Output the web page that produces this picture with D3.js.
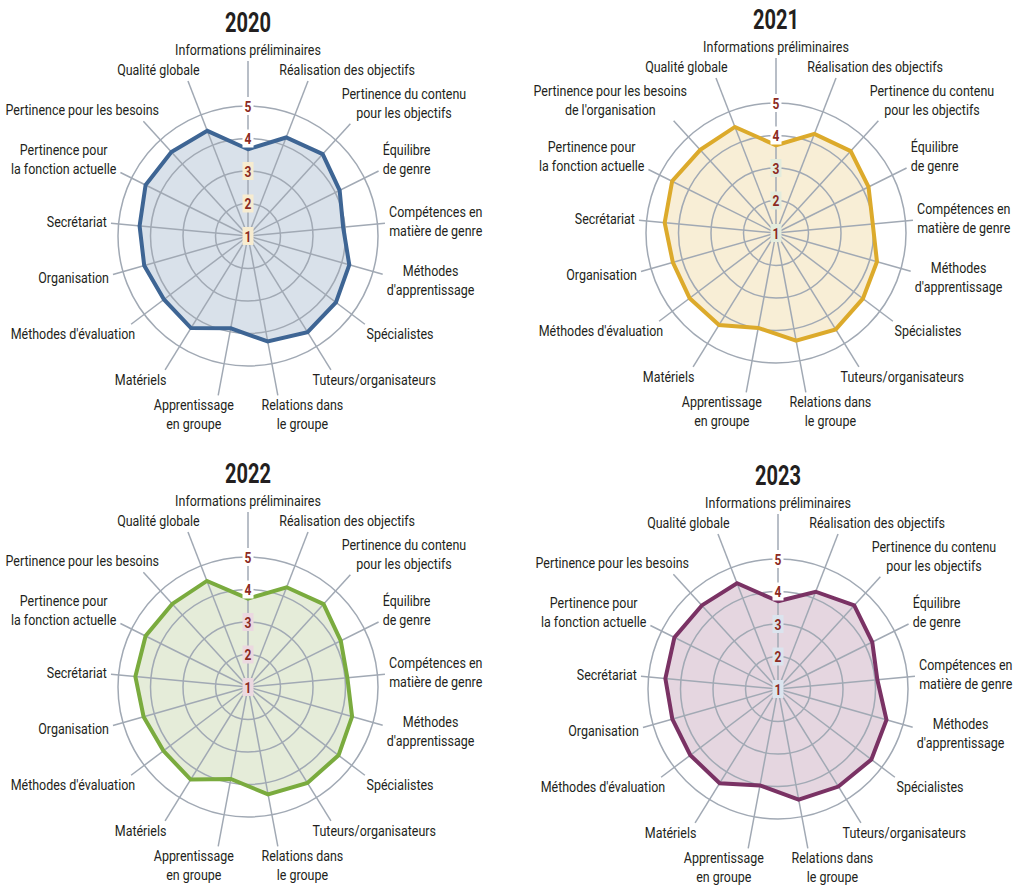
<!DOCTYPE html>
<html>
<head>
<meta charset="utf-8">
<script src="https://cdn.jsdelivr.net/npm/d3@7"></script>
<style>
  html, body { margin: 0; padding: 0; background: #ffffff; }
  svg { display: block; }
  .lab { font-family: Roboto, "Liberation Sans", sans-serif; font-size: 15.5px; fill: #231f20; }
  .title { font-family: Roboto, "Liberation Sans", sans-serif; font-weight: bold; font-size: 28px; fill: #231f20; }
  .tick { font-family: Roboto, "Liberation Sans", sans-serif; font-weight: bold; font-size: 15px; fill: #8c2a22; }
</style>
</head>
<body>
<svg id="chart" width="1013" height="885"></svg>
<script>
// ---- Data ----
const categories = [
  "Informations préliminaires",
  "Réalisation des objectifs",
  "Pertinence du contenu\npour les objectifs",
  "Équilibre\nde genre",
  "Compétences en\nmatière de genre",
  "Méthodes\nd'apprentissage",
  "Spécialistes",
  "Tuteurs/organisateurs",
  "Relations dans\nle groupe",
  "Apprentissage\nen groupe",
  "Matériels",
  "Méthodes d'évaluation",
  "Organisation",
  "Secrétariat",
  "Pertinence pour\nla fonction actuelle",
  "Pertinence pour les besoins",
  "Qualité globale"
];
const categories2021 = categories.map((c, i) => i === 15 ? "Pertinence pour les besoins\nde l'organisation" : c);

const years = ["2020", "2021", "2022", "2023"];
const values2020 = [3.67, 4.25, 4.41, 4.15, 3.94, 4.24, 4.39, 4.48, 4.30, 3.89, 4.33, 4.24, 4.32, 4.35, 4.52, 4.50, 4.47];
const values2021 = [3.70, 4.27, 4.41, 4.18, 3.99, 4.23, 4.35, 4.49, 4.37, 3.97, 4.33, 4.33, 4.30, 4.44, 4.57, 4.46, 4.50];
const values2022 = [3.72, 4.29, 4.45, 4.19, 4.07, 4.33, 4.49, 4.47, 4.36, 3.88, 4.35, 4.26, 4.34, 4.48, 4.52, 4.46, 4.50];
const values2023 = [3.70, 4.21, 4.48, 4.24, 4.07, 4.47, 4.60, 4.53, 4.46, 4.02, 4.41, 4.38, 4.38, 4.48, 4.56, 4.48, 4.49];
const tickValues = [1, 2, 3, 4, 5];
const tickLabels = ["1", "2", "3", "4", "5"];

// ---- Styles / layout ----
const strokeColors = ["#3e6594", "#dcaa2b", "#7aab3e", "#7a3264"];
const fillColors   = ["#d9e1ea", "#f8eed6", "#e5ecd9", "#e5d6e0"];
const tickBoxColors = ["#f7ecd0", "#e3ecdd", "#ebd8e0", "#dbe4ee"];
const centers = [[248, 236], [776, 233], [248, 687], [778, 689]];
const gridColor = "#a1a9b4";
const labelTargetWidth = 146;   // width of "Informations préliminaires" in the reference
const titleTargetWidth = 46;
const tickScale = 0.8;

const series = [
  { year: years[0], values: values2020, cats: categories },
  { year: years[1], values: values2021, cats: categories2021 },
  { year: years[2], values: values2022, cats: categories },
  { year: years[3], values: values2023, cats: categories }
];

const svg = d3.select("#chart");
const r = d3.scaleLinear().domain([1, 5]).range([0, 130]);
const n = categories.length;
const angle = d3.scaleLinear().domain([0, n]).range([0, 2 * Math.PI]);
const lineH = 19;

// measure condensing factors
const probe = svg.append("text").attr("class", "lab").text(categories[0]);
const sx = labelTargetWidth / probe.node().getComputedTextLength();
probe.remove();
const probeT = svg.append("text").attr("class", "title").text("2020");
const sxT = titleTargetWidth / probeT.node().getComputedTextLength();
probeT.remove();

series.forEach((s, si) => {
  const [cx, cy] = centers[si];
  const g = svg.append("g").attr("transform", `translate(${cx},${cy})`);

  // title
  g.append("text").attr("class", "title").attr("text-anchor", "middle")
    .attr("transform", `translate(0,-204) scale(${sxT},1)`).text(s.year);

  // filled area
  const radial = d3.lineRadial()
    .angle((d, i) => angle(i))
    .radius(d => r(d))
    .curve(d3.curveLinearClosed);
  g.append("path").datum(s.values).attr("d", radial)
    .attr("fill", fillColors[si]).attr("stroke", "none");

  // grid rings
  g.selectAll("circle.ring").data(tickValues.filter(v => v > 1)).enter()
    .append("circle").attr("class", "ring")
    .attr("r", d => r(d)).attr("fill", "none")
    .attr("stroke", gridColor).attr("stroke-width", 1.5);

  const axesG = g.append("g");
  const labG = g.append("g");
  s.cats.forEach((c, i) => {
    const a = angle(i);
    const ux = Math.sin(a), uy = -Math.cos(a);
    const t = labG.append("text").attr("class", "lab").attr("text-anchor", "middle");
    c.split("\n").forEach((l, j) => {
      t.append("tspan").attr("x", 0).attr("dy", j ? lineH : 0).text(l);
    });
    const bb = t.node().getBBox();
    const w = bb.width * sx, h = bb.height;
    const ca = Math.cos(a), ac = Math.abs(ca);
    const R0 = 139 + (ca > 0 ? 30 : 25) * ac + 8 * Math.pow(Math.max(0, ca), 20);
    const push = Math.abs(ux) > 1e-6 ? Math.sign(ux) * 18 * Math.pow(Math.abs(uy), 4) : 0;
    const bx = R0 * ux + ux * w / 2 + push;
    const by = R0 * uy + uy * h / 2;
    const tx = bx - (bb.x * sx + w / 2), ty = by - (bb.y + h / 2);
    t.attr("transform", `translate(${tx},${ty}) scale(${sx},1)`);
    // ray/box intersection for axis end
    const pad = 4;
    const x0 = bx - w / 2 - pad, x1 = bx + w / 2 + pad;
    const y0 = by - h / 2 - pad + 3, y1 = by + h / 2 + pad - 2;
    let tminX = -Infinity, tmaxX = Infinity, tminY = -Infinity, tmaxY = Infinity;
    if (Math.abs(ux) > 1e-6) { const ta = x0 / ux, tb = x1 / ux; tminX = Math.min(ta, tb); tmaxX = Math.max(ta, tb); }
    if (Math.abs(uy) > 1e-6) { const ta = y0 / uy, tb = y1 / uy; tminY = Math.min(ta, tb); tmaxY = Math.max(ta, tb); }
    const tEnter = Math.max(tminX, tminY), tExit = Math.min(tmaxX, tmaxY);
    const L = (tEnter <= tExit && tEnter > 0) ? tEnter : R0 - 2;
    axesG.append("line")
      .attr("x1", 0).attr("y1", 0)
      .attr("x2", L * ux).attr("y2", L * uy)
      .attr("stroke", gridColor).attr("stroke-width", 1.5);
  });

  // outline
  g.append("path").datum(s.values).attr("d", radial)
    .attr("fill", "none").attr("stroke", strokeColors[si])
    .attr("stroke-width", 4).attr("stroke-linejoin", "miter");

  // tick labels on top axis
  const tg = g.selectAll("g.tk").data(tickValues).enter().append("g")
    .attr("transform", d => `translate(0,${-r(d)})`);
  tg.append("rect").attr("x", -5.5).attr("y", -9).attr("width", 11).attr("height", 18)
    .attr("fill", d => d < s.values[0] ? tickBoxColors[si] : "#ffffff");
  tg.append("text").attr("class", "tick").attr("text-anchor", "middle")
    .attr("transform", `translate(0,5.5) scale(${tickScale},1)`)
    .text((d, i) => tickLabels[i]);
});
</script>
</body>
</html>
